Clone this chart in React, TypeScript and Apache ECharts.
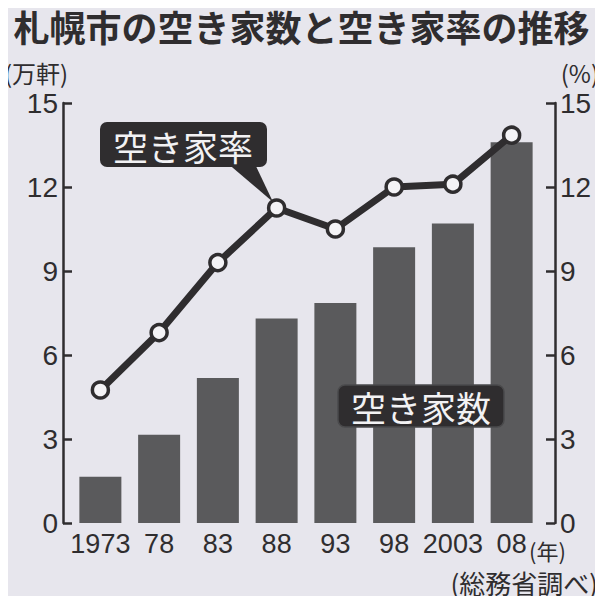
import React, { useEffect, useRef } from "react";
import * as echarts from "echarts";

const years = ["1973", "78", "83", "88", "93", "98", "2003", "08"];
const vacantHouses = [1.65, 3.15, 5.18, 7.3, 7.86, 9.85, 10.7, 13.6]; // 万軒
const vacancyRate = [4.75, 6.8, 9.3, 11.25, 10.5, 12.0, 12.1, 13.85]; // %
const yTicks = [0, 3, 6, 9, 12, 15];

const TITLE = "札幌市の空き家数と空き家率の推移";
const LEFT_UNIT = "(万軒)";
const RIGHT_UNIT = "(%)";
const YEAR_UNIT = "(年)";
const SOURCE = "(総務省調べ)";
const RATE_LABEL = "空き家率";
const COUNT_LABEL = "空き家数";

const JP = "'Noto Sans CJK JP', 'Noto Sans', sans-serif";
const NUM = "'Liberation Sans', Arial, sans-serif";
const INK = "#2f2d2f";
const BG = "#e7e6ed";

export default function App() {
  const ref = useRef<HTMLDivElement>(null);
  useEffect(() => {
    if (!ref.current) return;
    const chart = echarts.init(ref.current, undefined, { renderer: "svg" });
    const yAxisCommon = {
      type: "value" as const,
      min: yTicks[0],
      max: yTicks[yTicks.length - 1],
      interval: 3,
      splitLine: { show: false },
      axisLine: { show: true, lineStyle: { color: INK, width: 2.5 } },
      axisTick: { show: true, inside: true, length: 9, lineStyle: { color: INK, width: 2.5 } },
      axisLabel: { fontSize: 28, color: INK, fontFamily: NUM, margin: 5 },
    };
    chart.setOption({
      animation: false,
      backgroundColor: BG,
      title: {
        text: TITLE,
        left: "center",
        top: 6,
        padding: 0,
        textStyle: { fontSize: 36, fontWeight: "bold", fontFamily: JP, color: INK, lineHeight: 40 },
      },
      grid: { left: 71, right: 62, top: 103, bottom: 81 },
      xAxis: {
        type: "category",
        data: years,
        axisLine: { show: false },
        axisTick: { show: false },
        axisLabel: { fontSize: 27, color: INK, fontFamily: NUM, margin: 7, interval: 0 },
      },
      yAxis: [
        { ...yAxisCommon, position: "left", offset: 8 },
        { ...yAxisCommon, position: "right", offset: 14 },
      ],
      series: [
        {
          type: "bar",
          yAxisIndex: 0,
          data: vacantHouses,
          barWidth: 42,
          itemStyle: { color: "#5a5a5c" },
          z: 1,
        },
        {
          type: "line",
          yAxisIndex: 1,
          data: vacancyRate,
          symbol: "circle",
          symbolSize: 16,
          lineStyle: { color: INK, width: 7 },
          itemStyle: { color: "#f4f3f6", borderColor: INK, borderWidth: 3.5 },
          z: 3,
        },
      ],
      graphic: [
        {
          type: "text",
          left: 4,
          top: 60,
          style: { text: LEFT_UNIT, fontSize: 24, fontFamily: JP, fill: INK },
        },
        {
          type: "text",
          right: 4,
          top: 60,
          style: { text: RIGHT_UNIT, fontSize: 24, fontFamily: JP, fill: INK },
        },
        {
          type: "text",
          left: 529,
          top: 539,
          style: { text: YEAR_UNIT, fontSize: 22, fontFamily: JP, fill: INK },
        },
        {
          type: "text",
          right: 5,
          top: 569,
          style: { text: SOURCE, fontSize: 26, fontFamily: JP, fill: INK },
        },
        {
          type: "polygon",
          shape: { points: [[226, 162], [254, 162], [273, 202]] },
          style: { fill: INK },
          z: 10,
        },
        {
          type: "rect",
          shape: { x: 100, y: 122, width: 167, height: 45, r: 7 },
          style: { fill: INK },
          z: 10,
        },
        {
          type: "text",
          x: 183,
          y: 145,
          style: {
            text: RATE_LABEL, fontSize: 35, fontFamily: JP, fill: "#f2f2f4",
            align: "center", verticalAlign: "middle",
          },
          z: 11,
        },
        {
          type: "rect",
          shape: { x: 338, y: 385, width: 166, height: 42, r: 7 },
          style: { fill: INK, stroke: "#4a4a4c", lineWidth: 1.5 },
          z: 10,
        },
        {
          type: "text",
          x: 421,
          y: 406,
          style: {
            text: COUNT_LABEL, fontSize: 35, fontFamily: JP, fill: "#f2f2f4",
            align: "center", verticalAlign: "middle",
          },
          z: 11,
        },
      ],
    });
    return () => chart.dispose();
  }, []);
  return <div ref={ref} style={{ width: 603, height: 604, margin: -8 }} />;
}
